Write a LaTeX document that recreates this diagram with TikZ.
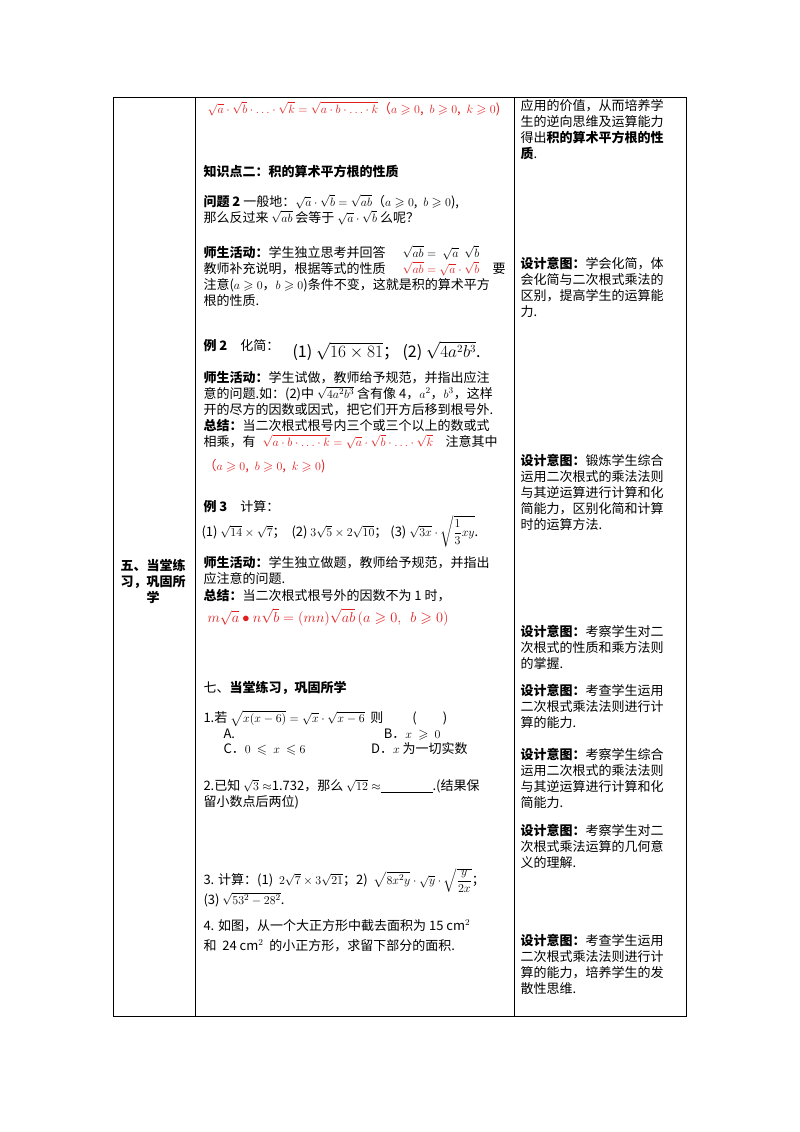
\documentclass[tikz,border=0pt]{standalone}
\usepackage{amsmath,amssymb}
\usepackage{fontspec}
\setmainfont{Noto Sans CJK SC}
\definecolor{rd}{RGB}{225,30,30}
\newcommand\T[3]{\node[anchor=base west,inner sep=0pt] at (#1,#2) {#3};}
\renewcommand\ge{\geqslant}
\begin{document}
\begin{tikzpicture}[x=1pt,y=-1pt,line width=1pt]
\useasboundingbox (0,0) rectangle (800,1132);
\fontsize{13}{16}\selectfont
% table
\draw (113,97) rectangle (686,1016);
\draw (195,97) -- (195,1016);
\draw (514,97) -- (514,1016);
% column 1
\T{120}{570}{\textbf{五、当堂练}}
\T{120}{586}{\textbf{习，巩固所}}
\T{146}{602}{\textbf{学}}
% column 2
\T{207}{113}{\color{rd}$\sqrt a\cdot\sqrt b\cdot\ldots\cdot\sqrt k=\sqrt{a\cdot b\cdot\ldots\cdot k}$（$a\ge0$,\ \ $b\ge0$,\ \ $k\ge0$)}
\T{203}{176}{\textbf{知识点二：积的算术平方根的性质}}
\T{203}{206}{\textbf{问题 2} 一般地：$\sqrt a\cdot\sqrt b=\sqrt{ab}$（$a\ge0$,\ \ $b\ge0$),}
\T{203}{222}{那么反过来 $\sqrt{ab}$ 会等于 $\sqrt a\cdot\sqrt b$ 么呢？}
\T{203}{257}{\textbf{师生活动：}学生独立思考并回答}
\T{402}{257}{$\sqrt{ab}=\ \sqrt a\ \ \sqrt b$}
\T{203}{273}{教师补充说明，根据等式的性质}
\T{402}{273}{\color{rd}$\sqrt{ab}=\sqrt a\cdot\sqrt b$}
\T{492}{273}{要}
\T{203}{289}{注意($a\ge0$，$b\ge0$)条件不变，这就是积的算术平方}
\T{203}{305}{根的性质.}
\T{203}{350}{\textbf{例 2}\quad 化简：}
\T{292}{357}{\fontsize{16}{18}\selectfont (1) $\sqrt{16\times81}$；\ (2) $\sqrt{4a^2b^3}$.}
\T{203}{382}{\textbf{师生活动：}学生试做，教师给予规范，并指出应注}
\T{203}{398}{意的问题.如：(2)中 $\sqrt{4a^2b^3}$ 含有像 4，$a^2$，$b^3$，这样}
\T{203}{414}{开的尽方的因数或因式，把它们开方后移到根号外.}
\T{203}{430}{\textbf{总结：}当二次根式根号内三个或三个以上的数或式}
\T{203}{446}{相乘，有}
\T{262}{446}{\color{rd}$\sqrt{a\cdot b\cdot\ldots\cdot k}=\sqrt a\cdot\sqrt b\cdot\ldots\cdot\sqrt k$}
\T{445}{446}{注意其中}
\T{203}{470}{\color{rd}（$a\ge0$,\ \ $b\ge0$,\ \ $k\ge0$)}
\T{203}{511}{\textbf{例 3}\quad 计算：}
\T{201}{536}{(1) $\sqrt{14}\times\sqrt7$；\ \ (2) $3\sqrt5\times2\sqrt{10}$；\ (3) $\sqrt{3x}\cdot\sqrt{\dfrac13xy}$.}
\T{203}{567}{\textbf{师生活动：}学生独立做题，教师给予规范，并指出}
\T{203}{583}{应注意的问题.}
\T{203}{600}{\textbf{总结：}当二次根式根号外的因数不为 1 时，}
\T{207}{622}{\color{rd}\fontsize{15}{18}\selectfont $m\sqrt a\bullet n\sqrt b=(mn)\sqrt{ab}\,(a\ge0,\ \ b\ge0)$}
\T{203}{692}{七、\textbf{当堂练习，巩固所学}}
\T{203}{722}{1.若 $\sqrt{x(x-6)}=\sqrt x\cdot\sqrt{x-6}$ \ 则 \qquad (\qquad )}
\T{223}{738}{A. \hspace{11em} B．$x\ \ge\ 0$}
\T{223}{753}{C．$0\ \leqslant\ x\ \leqslant6$ \hspace{4.6em} D．$x$ 为一切实数}
\T{203}{790}{2.已知 $\sqrt3\approx$1.732，那么 $\sqrt{12}\approx$\underline{\hspace{4em}}.(结果保}
\T{203}{806}{留小数点后两位)}
\T{203}{884}{3. 计算：(1) \ $2\sqrt7\times3\sqrt{21}$；2) \ $\sqrt{8x^2y}\cdot\sqrt y\cdot\sqrt{\dfrac{y}{2x}}$；}
\T{203}{904}{(3) $\sqrt{53^2-28^2}$.}
\T{203}{930}{4. 如图，从一个大正方形中截去面积为 15 cm$^2$}
\T{203}{950}{和\ \ 24 cm$^2$\ \ 的小正方形，求留下部分的面积.}
% column 3
\T{520}{110}{应用的价值，从而培养学}
\T{520}{126}{生的逆向思维及运算能力}
\T{520}{142}{得出\textbf{积的算术平方根的性}}
\T{520}{158}{\textbf{质}.}
\T{520}{268}{\textbf{设计意图：}学会化简，体}
\T{520}{284}{会化简与二次根式乘法的}
\T{520}{300}{区别，提高学生的运算能}
\T{520}{316}{力.}
\T{520}{465}{\textbf{设计意图：}锻炼学生综合}
\T{520}{481}{运用二次根式的乘法法则}
\T{520}{497}{与其逆运算进行计算和化}
\T{520}{513}{简能力，区别化简和计算}
\T{520}{529}{时的运算方法.}
\T{520}{636}{\textbf{设计意图：}考察学生对二}
\T{520}{652}{次根式的性质和乘方法则}
\T{520}{668}{的掌握.}
\T{520}{695}{\textbf{设计意图：}考查学生运用}
\T{520}{711}{二次根式乘法法则进行计}
\T{520}{727}{算的能力.}
\T{520}{759}{\textbf{设计意图：}考察学生综合}
\T{520}{775}{运用二次根式的乘法法则}
\T{520}{791}{与其逆运算进行计算和化}
\T{520}{807}{简能力.}
\T{520}{835}{\textbf{设计意图：}考察学生对二}
\T{520}{851}{次根式乘法运算的几何意}
\T{520}{867}{义的理解.}
\T{520}{945}{\textbf{设计意图：}考查学生运用}
\T{520}{961}{二次根式乘法法则进行计}
\T{520}{977}{算的能力，培养学生的发}
\T{520}{993}{散性思维.}
\end{tikzpicture}
\end{document}
